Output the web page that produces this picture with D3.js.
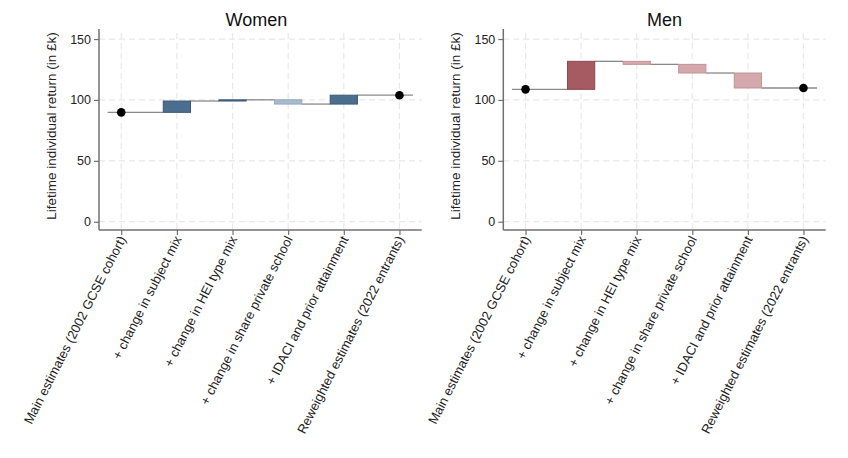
<!DOCTYPE html>
<html>
<head>
<meta charset="utf-8">
<script src="https://cdn.jsdelivr.net/npm/d3@7"></script>
<style>
  html, body { margin: 0; padding: 0; background: #fff; }
  svg { display: block; font-family: "Liberation Sans", Arial, sans-serif; }
</style>
</head>
<body>
<svg id="chart" width="848" height="458"></svg>
<script>
// ---- Data ----
const categories = [
  "Main estimates (2002 GCSE cohort)",
  "+ change in subject mix",
  "+ change in HEI type mix",
  "+ change in share private school",
  "+ IDACI and prior attainment",
  "Reweighted estimates (2022 entrants)"
];
// cumulative level after each step (last = reweighted estimate)
const womenValues = [89.8, 99.1, 100.1, 96.6, 103.9, 103.9];
const menValues   = [108.7, 131.7, 129.2, 122.1, 109.8, 109.8];
const yTicks = [0, 50, 100, 150];
const panelTitles = ["Women", "Men"];
const yLabel = "Lifetime individual return (in £k)";

// ---- Layout ----
const svg = d3.select("#chart");
const panels = [
  { title: panelTitles[0], values: womenValues, x0: 99, x1: 421.7,
    pos: "#4b6e8f", posStroke: "#3b5a78", neg: "#a8bccf", negStroke: "#93a8bd" },
  { title: panelTitles[1], values: menValues, x0: 503.3, x1: 825.7,
    pos: "#a65a61", posStroke: "#8c4850", neg: "#d4a8ac", negStroke: "#c29397" }
];
const yTop = 31, yBottom = 230;

panels.forEach(p => {
  const g = svg.append("g");
  const x = d3.scalePoint().domain(categories).range([p.x0, p.x1]).padding(0.4);
  const y = d3.scaleLinear().domain([-6.8, 156.6]).range([yBottom, yTop]);
  const step = x.step();
  const half = step * 0.245;

  // grid
  g.selectAll(".hgrid").data(yTicks).join("line")
    .attr("x1", p.x0).attr("x2", p.x1)
    .attr("y1", d => y(d)).attr("y2", d => y(d))
    .attr("stroke", "#e8e8e8").attr("stroke-width", 1.2).attr("stroke-dasharray", "6,4");
  g.selectAll(".vgrid").data(categories).join("line")
    .attr("x1", d => x(d)).attr("x2", d => x(d))
    .attr("y1", yTop + 2).attr("y2", yBottom)
    .attr("stroke", "#e8e8e8").attr("stroke-width", 1.2).attr("stroke-dasharray", "6,4");

  // connector (step) lines
  const v = p.values;
  const segs = [];
  for (let i = 0; i < categories.length - 1; i++) {
    const xs = i === 0 ? x(categories[0]) - half : x(categories[i]) + half;
    const xe = i === categories.length - 2 ? x(categories[i + 1]) + half : x(categories[i + 1]) - half;
    segs.push({ x1: xs, x2: xe, val: v[i] });
  }
  g.selectAll(".conn").data(segs).join("line")
    .attr("x1", d => d.x1).attr("x2", d => d.x2)
    .attr("y1", d => y(d.val)).attr("y2", d => y(d.val))
    .attr("stroke", "#8a8a8a").attr("stroke-width", 1.3);

  // bars for intermediate steps
  const bars = [];
  for (let i = 1; i < categories.length - 1; i++) {
    bars.push({ cat: categories[i], from: v[i - 1], to: v[i] });
  }
  g.selectAll(".bar").data(bars).join("rect")
    .attr("x", d => x(d.cat) - half)
    .attr("width", half * 2)
    .attr("y", d => y(Math.max(d.from, d.to)))
    .attr("height", d => Math.max(1, Math.abs(y(d.from) - y(d.to))))
    .attr("fill", d => d.to >= d.from ? p.pos : p.neg)
    .attr("stroke", d => d.to >= d.from ? p.posStroke : p.negStroke)
    .attr("stroke-width", 1);

  // dots for main & reweighted estimates
  const dots = [
    { cat: categories[0], val: v[0] },
    { cat: categories[categories.length - 1], val: v[v.length - 1] }
  ];
  g.selectAll(".dot").data(dots).join("circle")
    .attr("cx", d => x(d.cat)).attr("cy", d => y(d.val))
    .attr("r", 4.3).attr("fill", "#000");

  // y axis
  const yAxis = d3.axisLeft(y).tickValues(yTicks).tickSize(5).tickPadding(3);
  const ya = g.append("g").attr("transform", `translate(${p.x0},0)`).call(yAxis);
  ya.select(".domain").attr("d", `M0,${yTop - 2}V${yBottom}`).attr("stroke", "#707070").attr("stroke-width", 1.5);
  ya.selectAll(".tick line").attr("stroke", "#707070").attr("stroke-width", 1.2);
  ya.selectAll(".tick text").attr("font-size", 12.5).attr("fill", "#222")
    .attr("font-family", "Liberation Sans, Arial, sans-serif");

  // x axis
  const xAxis = d3.axisBottom(x).tickSize(5).tickFormat("");
  const xa = g.append("g").attr("transform", `translate(0,${yBottom})`).call(xAxis);
  xa.select(".domain").attr("d", `M${p.x0},0H${p.x1}`).attr("stroke", "#707070").attr("stroke-width", 1.5);
  xa.selectAll(".tick line").attr("stroke", "#707070").attr("stroke-width", 1.2);

  // category labels
  g.selectAll(".clab").data(categories).join("text")
    .attr("transform", d => `translate(${x(d) + 5},${yBottom + 9}) rotate(-63)`)
    .attr("text-anchor", "end")
    .attr("font-size", 13)
    .attr("fill", "#222")
    .text(d => d);

  // y label
  g.append("text")
    .attr("transform", `translate(${p.x0 - 43},126) rotate(-90)`)
    .attr("text-anchor", "middle")
    .attr("font-size", 13.5)
    .attr("fill", "#222")
    .text(yLabel);

  // title
  g.append("text")
    .attr("x", (p.x0 + p.x1) / 2 - (p.title === "Women" ? 4 : 0))
    .attr("y", 25.7)
    .attr("text-anchor", "middle")
    .attr("font-size", 18)
    .attr("fill", "#111")
    .text(p.title);
});
</script>
</body>
</html>
